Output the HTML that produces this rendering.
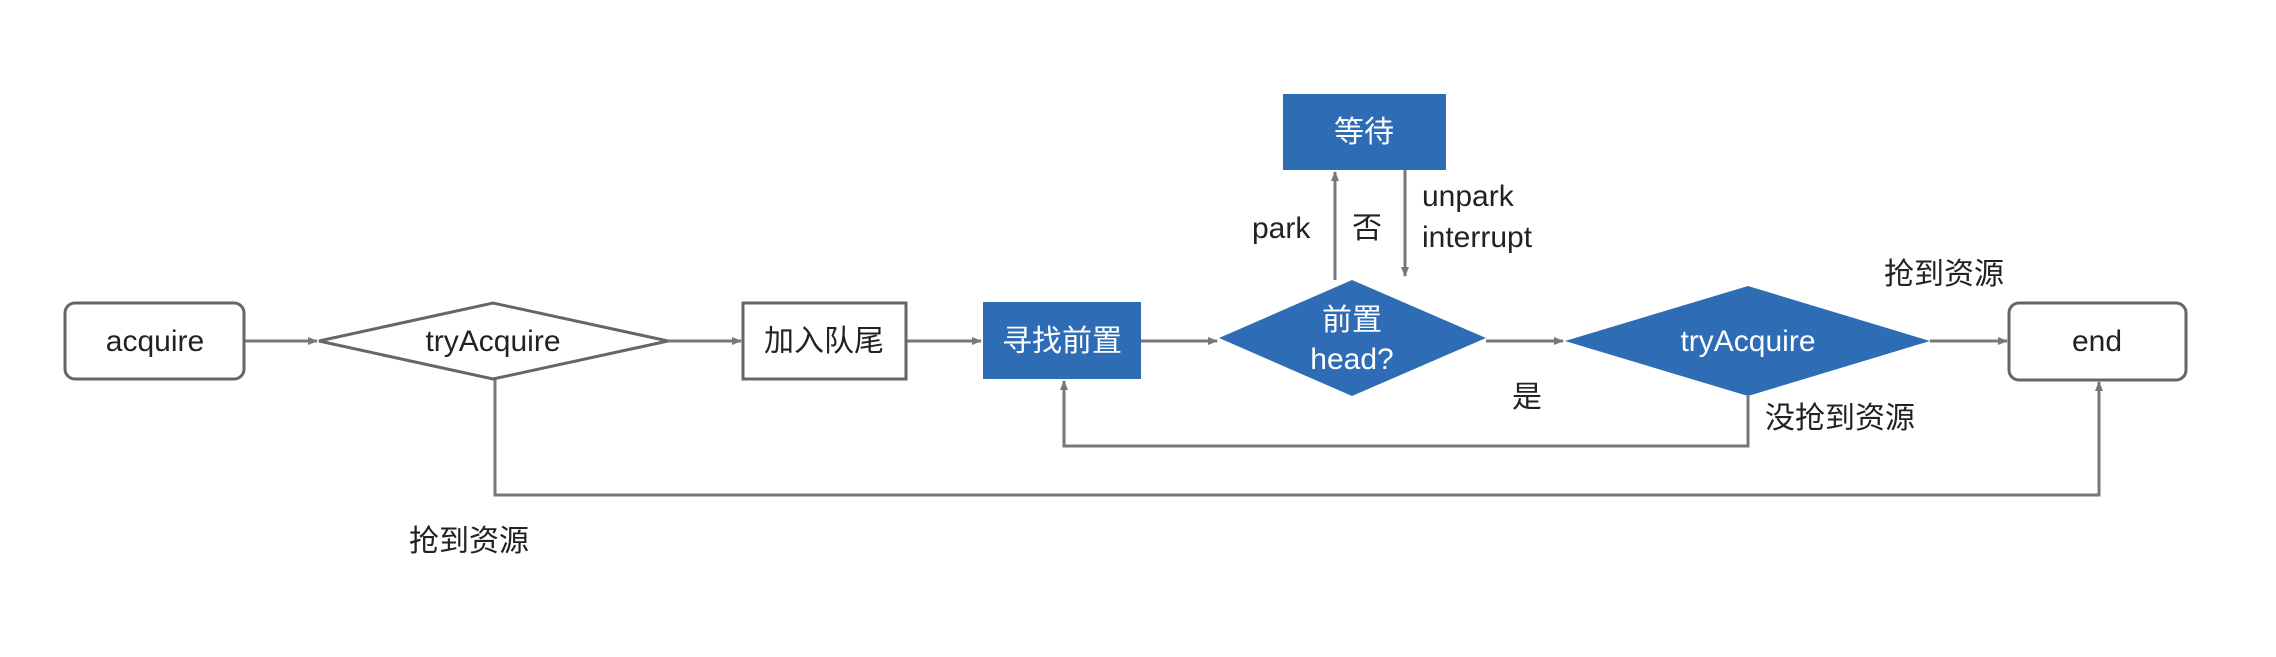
<!DOCTYPE html>
<html><head><meta charset="utf-8"><style>
html,body{margin:0;padding:0;background:#fff;}
svg text{font-family:"Liberation Sans","Noto Sans CJK SC",sans-serif;font-size:30px;fill:#222;}
</style></head><body>
<svg width="2276" height="652" viewBox="0 0 2276 652" xmlns="http://www.w3.org/2000/svg">
<defs>
<marker id="a" markerWidth="10" markerHeight="10" refX="9" refY="5" orient="auto" markerUnits="userSpaceOnUse">
<path d="M0,1 L10,5 L0,9 z" fill="#777"/></marker>
</defs>
<g stroke="#777" stroke-width="3" fill="none">
<line x1="244" y1="341" x2="317" y2="341" marker-end="url(#a)"/>
<line x1="668" y1="341" x2="741" y2="341" marker-end="url(#a)"/>
<line x1="906" y1="341" x2="981" y2="341" marker-end="url(#a)"/>
<line x1="1141" y1="341" x2="1217" y2="341" marker-end="url(#a)"/>
<line x1="1486" y1="341" x2="1563" y2="341" marker-end="url(#a)"/>
<line x1="1930" y1="341" x2="2007" y2="341" marker-end="url(#a)"/>
<line x1="1335" y1="280" x2="1335" y2="172" marker-end="url(#a)"/>
<line x1="1405" y1="170" x2="1405" y2="276" marker-end="url(#a)"/>
<polyline points="1748,396 1748,446 1064,446 1064,381" marker-end="url(#a)"/>
<polyline points="495,379 495,495 2099,495 2099,382" marker-end="url(#a)"/>
</g>
<rect x="65" y="303" width="179" height="76" rx="10" fill="#fff" stroke="#666" stroke-width="3"/>
<polygon points="319,341 493,303 668,341 493,379" fill="#fff" stroke="#666" stroke-width="3"/>
<rect x="743" y="303" width="163" height="76" fill="#fff" stroke="#666" stroke-width="3"/>
<rect x="983" y="302" width="158" height="77" fill="#2e6db5"/>
<polygon points="1219,338 1352,280 1486,338 1352,396" fill="#2e6db5"/>
<rect x="1283" y="94" width="163" height="76" fill="#2e6db5"/>
<polygon points="1565,341 1748,286 1930,341 1748,396" fill="#2e6db5"/>
<rect x="2009" y="303" width="177" height="77" rx="10" fill="#fff" stroke="#666" stroke-width="3"/>
<g text-anchor="middle">
<text x="155" y="351">acquire</text>
<text x="493" y="351">tryAcquire</text>
<text x="824" y="351">加入队尾</text>
<text x="1062" y="351" style="fill:#fff">寻找前置</text>
<text x="1352" y="330" style="fill:#fff">前置</text>
<text x="1352" y="369" style="fill:#fff">head?</text>
<text x="1364" y="142" style="fill:#fff">等待</text>
<text x="1748" y="351" style="fill:#fff">tryAcquire</text>
<text x="2097" y="351">end</text>
</g>
<text x="1252" y="238">park</text>
<text x="1352" y="238">否</text>
<text x="1422" y="206">unpark</text>
<text x="1422" y="247">interrupt</text>
<text x="1884" y="284">抢到资源</text>
<text x="1512" y="407">是</text>
<text x="1765" y="428">没抢到资源</text>
<text x="409" y="551">抢到资源</text>
</svg>
</body></html>
